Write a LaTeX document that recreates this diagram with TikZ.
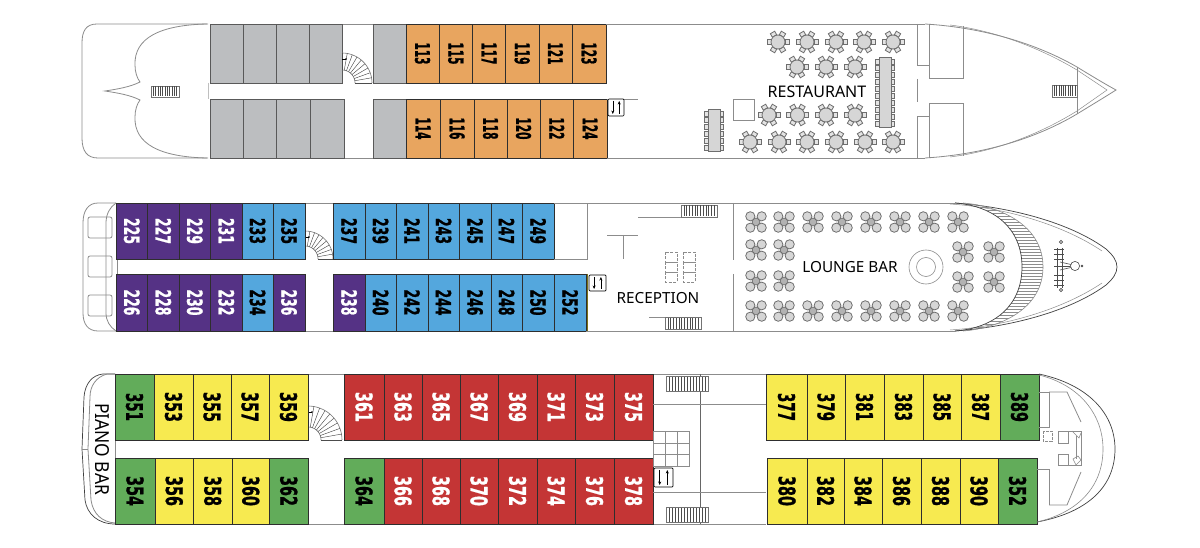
\documentclass[tikz,border=0pt]{standalone}
\usepackage{fontspec}
\usepackage{graphicx}
\setmainfont{Noto Sans}
\newfontfamily\numfont{DejaVu Sans}[BoldFont={DejaVu Sans Bold},BoldFeatures={FakeBold=1.2}]
\usetikzlibrary{arrows.meta}
\definecolor{cOrange}{HTML}{E8A55F}
\definecolor{cGray}{HTML}{BCBEC0}
\definecolor{cPurple}{HTML}{553285}
\definecolor{cBlue}{HTML}{54A7DD}
\definecolor{cGreen}{HTML}{62AC5A}
\definecolor{cYellow}{HTML}{F7EA50}
\definecolor{cRed}{HTML}{C43535}
\definecolor{cLine}{HTML}{8C8C8C}
\definecolor{cDark}{HTML}{2E2E2E}
\definecolor{cSeat}{HTML}{D6D6D6}
\definecolor{cChair}{HTML}{E4E4E4}
\definecolor{cRim}{HTML}{6E6E6E}
\tikzset{
  x=1pt,y=-1pt,
  hull/.style={draw=cLine,line width=0.8pt},
  hullthin/.style={draw=cLine,line width=0.5pt},
  hulldark/.style={draw=black!75,line width=0.7pt},
  wall/.style={draw=cLine,line width=0.8pt},
  cabinbox/.style={draw=cDark,line width=0.8pt},
  grayedge/.style={draw=black!65,line width=0.8pt},
  chair/.style={draw=cRim,fill=cChair,line width=0.8pt},
  deckname/.style={font=\fontsize{16}{16}\selectfont,text=black,inner sep=0pt},
  numlabel/.style={rotate=-90,inner sep=0pt,font=\numfont\bfseries},
  liftbox/.style={draw=black,fill=white,line width=0.7pt,rounded corners=1pt},
  stairbox/.style={draw=black!55,fill=white,line width=0.5pt},
  tread/.style={draw=black!70,line width=0.45pt},
  roundtable/.pic={
    \foreach \a in {0,60,...,300}{
      \draw[chair,rotate=\a] (7,-2.5) rectangle (11,2.5);
    }
    \draw[chair,fill=cSeat] (0,0) circle (7);
  },
  cluster/.pic={
    \draw[chair,fill=black!30] (0,0) circle (4);
    \foreach \u/\v in {-5.7/-5.7,5.7/-5.7,-5.7/5.7,5.7/5.7}{
      \draw[chair,fill=cSeat] (\u,\v) circle (4.6);
    }
  },
}
% one cabin: number, left, right, top, bottom, colour, text colour, label length, label height
\newcommand\cabin[9]{%
  \draw[cabinbox,fill=#6] (#2,#4) rectangle (#3,#5);
  \node[numlabel,text=#7] (c#1) at ({(#2+#3)/2},{(#4+#5)/2}) {\resizebox{#8pt}{#9pt}{#1}};
}
\newcommand\greycell[4]{\draw[grayedge,fill=cGray] (#1,#3) rectangle (#2,#4);}
\newcommand\stairblock[5]{%
  \draw[stairbox] (#1,#2) rectangle (#3,#4);
  \foreach \i in {1,...,#5}{
    \draw[tread] ({#1+(#3-#1)*\i/(#5+1)},{#2+0.5}) -- ({#1+(#3-#1)*\i/(#5+1)},{#4-0.5});
  }
}
\newcommand\spiralstair[3]{%
  \draw[draw=black!55,line width=0.6pt] plot[domain=0:90,samples=18] ({#1+#3*cos(\x)},{#2-#3*sin(\x)});
  \draw[draw=black!55,line width=0.6pt] plot[domain=0:90,samples=18] ({#1+13*cos(\x)},{#2-13*sin(\x)});
  \foreach \a in {0,10,...,90}{
    \draw[tread] ({#1+13*cos(\a)},{#2-13*sin(\a)}) -- ({#1+#3*cos(\a)},{#2-#3*sin(\a)});
  }
  \draw[draw=black,line width=0.6pt] (#1,{#2-#3+6}) -- (#1+4,{#2-#3+6});
  \fill[black] (#1+4,{#2-#3+6}) circle (0.9);
}
\newcommand\liftarrows[4]{%
  \draw[liftbox] (#1,#2) rectangle (#3,#4);
  \draw[black,line width=0.6pt,-{Stealth[length=3.5pt,width=3pt]}] ({#1+(#3-#1)*0.3},{#2+2}) -- ({#1+(#3-#1)*0.3},{#4-2});
  \draw[black,line width=0.6pt,-{Stealth[length=3.5pt,width=3pt]}] ({#1+(#3-#1)*0.7},{#4-2}) -- ({#1+(#3-#1)*0.7},{#2+2});
}
\begin{document}
\begin{tikzpicture}
\useasboundingbox[fill=white] (0,0) rectangle (1200,548);

%%%%%%%%%% DECK 1
\draw[hull] (208,24) -- (97,24) .. controls (86,24) and (82,31) .. (82,43) -- (82,138)
  .. controls (82,151) and (87,158) .. (98,158) -- (208,158);
\draw[hull] (207,24) .. controls (160,25) and (134,38) .. (135,65) .. controls (135,72) and (137,78) .. (140,82)
  .. controls (130,87) and (118,89) .. (105,91) .. controls (118,93) and (130,95) .. (140,100)
  .. controls (137,104) and (135,110) .. (135,117) .. controls (134,144) and (160,157) .. (207,158);
\stairblock{151}{86}{179}{97}{11}
\draw[hull] (342,24) -- (373,24);
\draw[hull] (344,158) -- (373,158);
\draw[hull,draw=black!25] (208,83) -- (208,99);
\foreach \a/\b in {210/243,243/276,276/309,309/342,373/406}{\greycell{\a}{\b}{24}{83}}
\foreach \a/\b in {210/243,243/276,276/310.5,310.5/344,373/406}{\greycell{\a}{\b}{99}{158}}
\spiralstair{342}{83}{30}
\foreach \n/\a/\b in {113/406/439,115/439/472.5,117/472.5/505.5,119/505.5/539,121/539/572,123/572/606}{
  \cabin{\n}{\a}{\b}{24}{83}{cOrange}{black}{22}{15}
}
\foreach \n/\a/\b in {114/406/440,116/440/474,118/474/507,120/507/540,122/540/573.5,124/573.5/607}{
  \cabin{\n}{\a}{\b}{99}{158}{cOrange}{black}{22}{15}
}
\draw[wall] (607,99) -- (638,99);
\liftarrows{608}{99}{624}{116}
% hull forward
\draw[hull] (606,24) -- (925,24);
\draw[hull] (607,158) -- (925,158);
\draw[hull] (925,24) .. controls (975,27) and (1030,40) .. (1077,67) .. controls (1090,75) and (1105,84) .. (1116,90)
  .. controls (1105,97) and (1090,106) .. (1077,114) .. controls (1030,142) and (975,155) .. (925,158);
\draw[hullthin] (950,25) .. controls (990,30) and (1035,45) .. (1077,70) -- (1107,90) -- (1077,111)
  .. controls (1035,137) and (990,152) .. (950,157);
\draw[wall] (917,24) -- (917,65) -- (929,65);
\draw[wall] (929,24) -- (929,78) -- (963,78) -- (963,26);
\draw[wall] (917,79) -- (917,102);
\draw[wall] (917,158) -- (917,116) -- (929,116);
\draw[wall] (929,158) -- (929,103) -- (963,103) -- (963,156);
\draw[wall] (1077,67) -- (1077,114);
\stairblock{1052}{85}{1077}{97}{10}
\draw[wall] (733,99) rectangle (754,120);
\node[deckname] (restaurant) at (817,92) {RESTAURANT};
\foreach \x in {778,807,836,864,893}{\pic at (\x,42) {roundtable};}
\foreach \x in {797,826,855}{\pic at (\x,67) {roundtable};}
\foreach \x in {769,797.5,826,855}{\pic at (\x,115) {roundtable};}
\foreach \x in {750,779,807,836,865,893}{\pic at (\x,142) {roundtable};}
% long tables
\foreach \i in {0,...,9}{
  \draw[chair] (875.5,{59+\i*6.9}) rectangle (879.5,{64+\i*6.9});
  \draw[chair] (890.5,{59+\i*6.9}) rectangle (894.5,{64+\i*6.9});
}
\draw[chair,fill=cSeat] (879,57) rectangle (891,127);
\foreach \i in {0,...,5}{
  \draw[chair] (704.5,{111+\i*6.9}) rectangle (708.5,{116+\i*6.9});
  \draw[chair] (719.5,{111+\i*6.9}) rectangle (723.5,{116+\i*6.9});
}
\draw[chair,fill=cSeat] (708,109) rectangle (720,151);

%%%%%%%%%% DECK 2
\draw[hull] (116,203) -- (98,203) .. controls (88,203) and (83,211) .. (83,223) -- (83,313)
  .. controls (83,324) and (88,331) .. (98,331) -- (116,331);
\draw[hull] (116,203) .. controls (110,207) and (106,214) .. (106,223) -- (106,313)
  .. controls (106,321) and (110,327) .. (116,331);
\draw[hull] (117,259) -- (117,274);
\foreach \a/\b in {217/238,256/277,295/316}{
  \draw[hull,rounded corners=2pt] (88,\a) rectangle (112,\b);
}
\draw[hull] (305,203) -- (333,203);
\draw[hull] (305,331) -- (333,331);
\spiralstair{305}{259}{28}
\foreach \n/\a/\b in {225/116/147.5,227/147.5/179,229/179/210.5,231/210.5/242}{
  \cabin{\n}{\a}{\b}{203}{259}{cPurple}{white}{26}{15.5}
}
\foreach \n/\a/\b in {233/242/273,235/273/305,237/333/365,239/365/396,241/396/428,243/428/459,245/459/491,247/491/522,249/522/554}{
  \cabin{\n}{\a}{\b}{203}{259}{cBlue}{black}{26}{15.5}
}
\foreach \n/\a/\b in {226/116/147.5,228/147.5/179,230/179/210.5,232/210.5/242,236/273/305,238/333/365}{
  \cabin{\n}{\a}{\b}{274}{331}{cPurple}{white}{26}{15.5}
}
\foreach \n/\a/\b in {234/242/273,240/365/396,242/396/428,244/428/459,246/459/491,248/491/522,250/522/554,252/554/586}{
  \cabin{\n}{\a}{\b}{274}{331}{cBlue}{black}{26}{15.5}
}
\draw[hull] (554,203) -- (955,203);
\draw[hull] (586,331) -- (955,331);
\draw[hulldark] (955,203) .. controls (1020,208) and (1075,226) .. (1106,249) .. controls (1113,255) and (1117,261) .. (1117,267)
  .. controls (1117,273) and (1113,279) .. (1106,285) .. controls (1075,308) and (1020,326) .. (955,331);
\draw[hullthin] (950,204) .. controls (1012,208) and (1068,228) .. (1102,251);
\draw[hullthin] (950,330) .. controls (1012,326) and (1068,306) .. (1102,283);
% lounge front stair band
\begin{scope}
  \clip (963,203) .. controls (1000,206) and (1043,225) .. (1043,267) .. controls (1043,309) and (1000,328) .. (963,331)
    .. controls (995,326) and (1022,305) .. (1022,267) .. controls (1022,229) and (995,208) .. (963,203) -- cycle;
  \foreach \y in {204,207,...,331}{\draw[tread,draw=black!45] (955,\y) -- (1050,\y);}
\end{scope}
\draw[hull,line width=0.6pt] (963,203) .. controls (1000,206) and (1043,225) .. (1043,267) .. controls (1043,309) and (1000,328) .. (963,331);
\draw[hulldark] (955,203) .. controls (995,206) and (1022,229) .. (1022,267) .. controls (1022,305) and (995,328) .. (955,331);
\draw[wall] (554,259) -- (587,259) -- (587,203);
\draw[wall] (733,203) -- (733,260);
\draw[wall] (733,274) -- (733,331);
\draw[draw=olive!80!black,line width=0.9pt] (587,274) -- (587,331);
\draw[wall] (638,217) -- (681,217);
\stairblock{681}{205}{717}{217}{12}
\draw[wall] (649,317) -- (665,317);
\stairblock{665}{317}{701}{329}{12}
\draw[wall] (607,235) -- (638,235);
\draw[wall] (623,235) -- (623,259);
\liftarrows{589}{275}{606}{291}
\foreach \a in {252,262,272}{
  \draw[draw=black!45,line width=0.6pt,dash pattern=on 3pt off 1.5pt] (665,\a) rectangle (677,{\a+10});
  \draw[draw=black!45,line width=0.6pt,dash pattern=on 3pt off 1.5pt] (683,\a) rectangle (695,{\a+10});
}
\node[deckname,font=\fontsize{15.3}{16}\selectfont] (reception) at (658,298) {RECEPTION};
\node[deckname,font=\fontsize{15.3}{16}\selectfont] (lounge) at (850,267) {LOUNGE BAR};
\foreach \x/\y in {756/222,784/222,813/222,842/222,871/222,900/222,929/222,958/222,
                   756/250,784/250,756/281,784/281,
                   756/311,784/311,813/311,842/311,871/311,900/311,929/311,958/311,
                   963/252,994/252,963/282,994/282}{\pic at (\x,\y) {cluster};}
\draw[wall,line width=0.6pt] (926,267) circle (17);
\draw[wall,line width=0.6pt] (926,267) circle (9.5);
% windlass
\draw[draw=black!70,line width=0.6pt] (1075,266) circle (4.6);
\draw[draw=black!70,line width=0.6pt] (1082,266) circle (0.9);
\draw[draw=black!70,line width=0.6pt] (1061,242) circle (1.6);
\draw[draw=black!70,line width=0.6pt] (1061,290) circle (1.6);
\draw[draw=black!70,line width=1pt] (1057,248) -- (1057,288);
\draw[draw=black!70,line width=0.6pt] (1062,248) -- (1062,288);
\draw[draw=black!70,line width=0.6pt] (1054,266) -- (1070.4,266);
\foreach \y in {249,254,259,275,280,285}{\draw[draw=black!70,line width=0.6pt] (1054,\y) -- (1064,\y);}
\draw[draw=black!70,line width=0.6pt] (1060,262) -- (1071,264.5);
\draw[draw=black!70,line width=0.6pt] (1060,270) -- (1071,267.5);

%%%%%%%%%% DECK 3
\draw[hull] (653,374) -- (766,374);
\draw[hull] (653,524) -- (766,524);
\draw[hull] (308,374) -- (344,374);
\draw[hull] (308,524) -- (344,524);
\draw[hulldark] (115,374) -- (103,374) .. controls (92,375) and (85,384) .. (84,397) -- (82,449) -- (85,500)
  .. controls (87,514) and (98,524) .. (115,524);
\draw[hull] (115,374) -- (107,374) .. controls (96,377) and (90,386) .. (90,397) -- (88,449) -- (91,500)
  .. controls (93,514) and (102,522) .. (115,523);
\draw[hull] (82,449) -- (88,449);
\node[deckname,rotate=-90] (pianobar) at (102,449) {\resizebox{92pt}{14pt}{PIANO BAR}};
\draw[hull] (115,440) -- (115,458);
\spiralstair{308}{440}{34}
\foreach \n/\a/\b in {351/115/154}{\cabin{\n}{\a}{\b}{374}{440}{cGreen}{black}{28}{17}}
\foreach \n/\a/\b in {353/154/193,355/193/231,357/231/269,359/269/308}{\cabin{\n}{\a}{\b}{374}{440}{cYellow}{black}{30}{17}}
\foreach \n/\a/\b in {354/115/155,362/269.5/308}{\cabin{\n}{\a}{\b}{458}{524}{cGreen}{black}{30}{17}}
\foreach \n/\a/\b in {356/155/193.5,358/193.5/232,360/232/269.5}{\cabin{\n}{\a}{\b}{458}{524}{cYellow}{black}{30}{17}}
\foreach \n/\a/\b in {361/344/384,363/384/422,365/422/460,367/460/498,369/498/537,371/537/575,373/575/614,375/614/653}{
  \cabin{\n}{\a}{\b}{374}{440}{cRed}{white}{30}{17}
}
\cabin{364}{344}{384}{458}{524}{cGreen}{black}{30}{17}
\foreach \n/\a/\b in {366/384/422,368/422/460,370/460/498,372/498/537,374/537/575,376/575/614,378/614/653}{
  \cabin{\n}{\a}{\b}{458}{524}{cRed}{white}{30}{17}
}
\foreach \n/\a/\b in {377/766/807,379/807/845,381/845/884,383/884/923,385/923/961,387/961/1000}{
  \cabin{\n}{\a}{\b}{374}{440}{cYellow}{black}{28}{17}
}
\cabin{389}{1000}{1039}{374}{440}{cGreen}{black}{30}{17}
\foreach \n/\a/\b in {380/767/807,382/807/844,384/844/882,386/882/921,388/921/960,390/960/998}{
  \cabin{\n}{\a}{\b}{458}{524}{cYellow}{black}{30}{17}
}
\cabin{352}{998}{1037}{458}{524}{cGreen}{black}{30}{17}
% midships
\draw[draw=black!60,line width=1pt] (700.7,374) -- (700.7,524);
\draw[wall] (653,404) -- (766,404);
\draw[wall] (653,492) -- (766,492);
\stairblock{666}{376}{708}{391}{13}
\stairblock{666}{507}{708}{522}{13}
\draw[wall] (653,431) rectangle (689,466);
\draw[wall] (665,431) -- (665,466);
\draw[wall] (677,431) -- (677,466);
\draw[wall] (653,443) -- (689,443);
\draw[wall] (653,454) -- (689,454);
\liftarrows{654}{468}{673}{487}
% bow
\draw[hulldark] (1039,374) .. controls (1090,385) and (1115,415) .. (1115,449) .. controls (1115,485) and (1090,512) .. (1037,522);
\draw[hull,line width=0.6pt] (1039,375) .. controls (1080,385) and (1103,415) .. (1103,449) .. controls (1103,485) and (1080,512) .. (1037,522);
\draw[wall] (1039,392) -- (1049,392) -- (1049,427) -- (1039,427);
\draw[wall] (1049,392) -- (1067,392) -- (1081,422);
\draw[wall] (1037,469) -- (1049,469) -- (1049,505);
\draw[wall] (1049,505) -- (1067,505) -- (1081,472);
\draw[wall,dash pattern=on 3pt off 1pt] (1043,431) rectangle (1052,441);
\draw[wall,line width=0.6pt] (1058,431) rectangle (1068,443);
\draw[wall,line width=0.6pt] (1058,454) rectangle (1068,465);
\draw[wall,line width=0.6pt] (1068,431) -- (1081,431) -- (1081,465) -- (1068,465);
\draw[wall,line width=0.6pt] (1076,436) -- (1076,459);
\draw[wall,line width=0.6pt] (1072,431) -- (1079,438) -- (1081,433);
\draw[wall,line width=0.6pt] (1073,459) -- (1078,456) -- (1081,460) -- (1076,465) -- cycle;
\end{tikzpicture}
\end{document}
